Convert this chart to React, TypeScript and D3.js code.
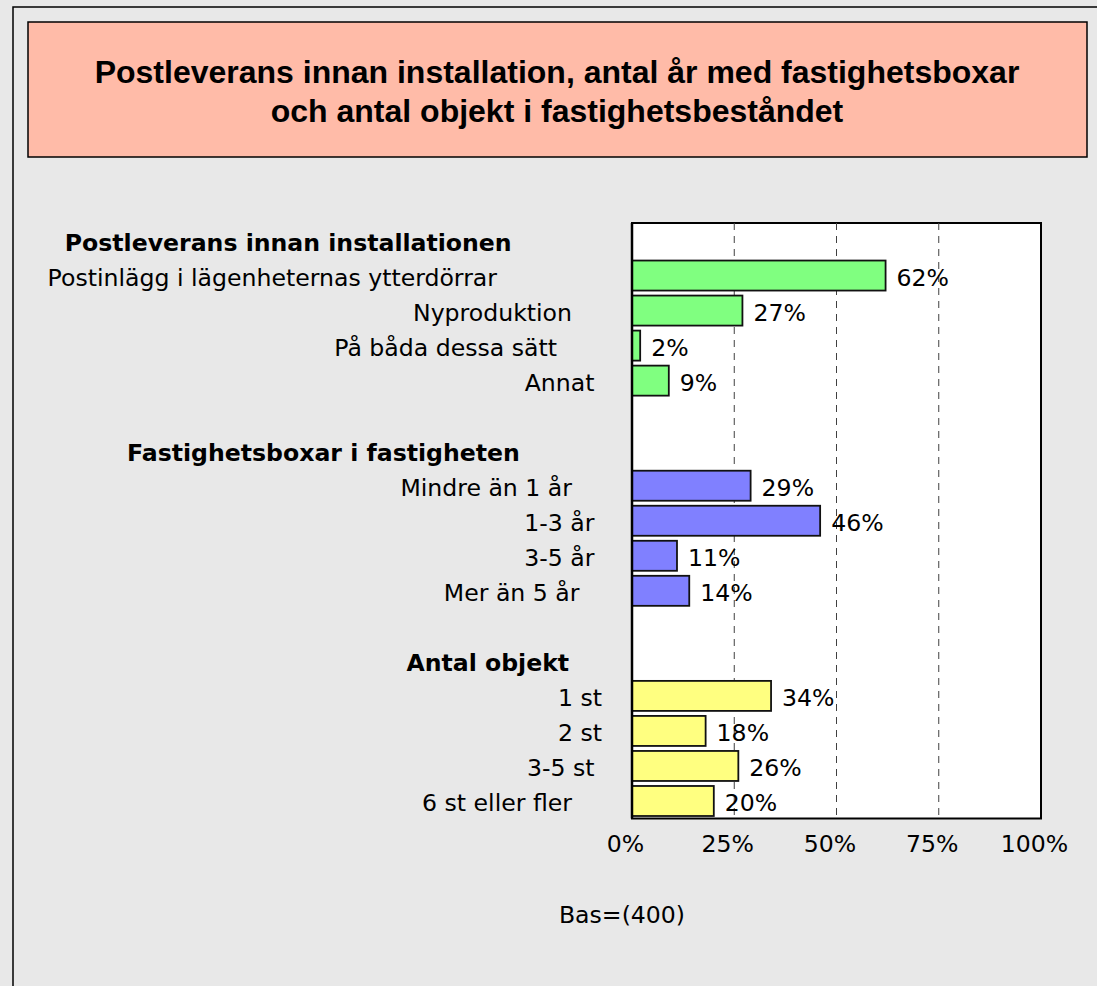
import * as d3 from 'd3';
import React, { useEffect, useRef } from 'react';

// title and footnote
const titleLines = [
    'Postleverans innan installation, antal år med fastighetsboxar',
    'och antal objekt i fastighetsbeståndet',
];
const baseNote = 'Bas=(400)';

// group headers (trailing spaces as in the source sheet)
const groupHeaders = [
    'Postleverans innan installationen           ',
    'Fastighetsboxar i fastigheten          ',
    'Antal objekt    ',
];

// group 1: postleverans innan installation
const postLabels = [
    'Postinlägg i lägenheternas ytterdörrar              ',
    'Nyproduktion    ',
    'På båda dessa sätt      ',
    'Annat ',
];
const postValues = [62, 27, 2, 9];

// group 2: antal år med fastighetsboxar
const yearLabels = [
    'Mindre än 1 år    ',
    '1-3 år ',
    '3-5 år ',
    'Mer än 5 år   ',
];
const yearValues = [29, 46, 11, 14];

// group 3: antal objekt
const objectLabels = [
    '1 st',
    '2 st',
    '3-5 st ',
    '6 st eller fler    ',
];
const objectValues = [34, 18, 26, 20];

const groupColors = ['#80FF80', '#8080FF', '#FFFF80'];
const xTicks = [0, 25, 50, 75, 100];

const W = 1097;
const H = 986;
const labelFont = '"DejaVu Sans", Verdana, sans-serif';
const labelSize = '23.6px';

function App() {
    const ref = useRef<SVGSVGElement>(null);

    useEffect(() => {
        document.body.style.margin = '0';
        const svg = d3.select(ref.current);
        svg.selectAll('*').remove();

        // build the row list: header, items, blank spacer
        const groups = [
            { labels: postLabels, values: postValues },
            { labels: yearLabels, values: yearValues },
            { labels: objectLabels, values: objectValues },
        ];
        const rows: any[] = [];
        groups.forEach((g, gi) => {
            if (gi > 0) rows.push({ key: 'blank' + gi, type: 'blank' });
            rows.push({ key: 'head' + gi, type: 'head', label: groupHeaders[gi] });
            g.labels.forEach((l, i) => {
                rows.push({ key: 'item' + gi + '_' + i, type: 'item', label: l, value: g.values[i], color: groupColors[gi] });
            });
        });

        const x = d3.scaleLinear().domain([0, 100]).range([632, 1041]);
        const y = d3.scaleBand()
            .domain(rows.map(r => r.key))
            .range([223, 818.5])
            .paddingInner(0.143)
            .paddingOuter(0.0715);
        const [y0, y1] = y.range();

        // page background + outer frame
        svg.append('rect')
            .attr('x', 0).attr('y', 0).attr('width', W).attr('height', H)
            .attr('fill', '#E8E8E8');
        svg.append('rect')
            .attr('x', 13).attr('y', 7).attr('width', W + 20).attr('height', H + 20)
            .attr('fill', 'none').attr('stroke', '#000').attr('stroke-width', 1.5);

        // title box
        svg.append('rect')
            .attr('x', 28).attr('y', 22).attr('width', 1059).attr('height', 135)
            .attr('fill', '#FFBBA8').attr('stroke', '#000').attr('stroke-width', 1.5);
        svg.append('g').selectAll('text')
            .data(titleLines)
            .join('text')
            .attr('x', 557)
            .attr('y', (d, i) => 83 + i * 39)
            .attr('text-anchor', 'middle')
            .style('font-family', '"Liberation Sans", Arial, sans-serif')
            .style('font-weight', 'bold')
            .style('font-size', '32px')
            .attr('fill', '#000')
            .text(d => d);

        // plot area
        svg.append('rect')
            .attr('x', x(0)).attr('y', y0)
            .attr('width', x(100) - x(0)).attr('height', y1 - y0)
            .attr('fill', '#fff').attr('stroke', '#000').attr('stroke-width', 2);

        svg.append('g').selectAll('line')
            .data(xTicks.filter(t => t > 0 && t < 100))
            .join('line')
            .attr('x1', d => x(d)).attr('x2', d => x(d))
            .attr('y1', y0).attr('y2', y1)
            .attr('stroke', '#404040')
            .attr('stroke-width', 1)
            .attr('stroke-dasharray', '7,6');

        const items = rows.filter(r => r.type === 'item');

        svg.append('g').selectAll('rect')
            .data(items)
            .join('rect')
            .attr('x', x(0))
            .attr('y', d => y(d.key)!)
            .attr('width', d => x(d.value) - x(0))
            .attr('height', y.bandwidth())
            .attr('fill', d => d.color)
            .attr('stroke', '#111')
            .attr('stroke-width', 1.8);

        // left axis line
        svg.append('line')
            .attr('x1', x(0)).attr('x2', x(0))
            .attr('y1', y0).attr('y2', y1)
            .attr('stroke', '#000').attr('stroke-width', 2.5);

        // value labels
        svg.append('g').selectAll('text')
            .data(items)
            .join('text')
            .attr('x', d => x(d.value) + 11)
            .attr('y', d => y(d.key)! + y.bandwidth() / 2 + 10)
            .style('font-family', labelFont)
            .style('font-size', labelSize)
            .attr('fill', '#000')
            .text(d => d.value + '%');

        // category + header labels
        svg.append('g').selectAll('text')
            .data(rows.filter(r => r.type !== 'blank'))
            .join('text')
            .attr('x', 602)
            .attr('y', d => y(d.key)! + y.bandwidth() / 2 + 10)
            .attr('text-anchor', 'end')
            .attr('xml:space', 'preserve')
            .style('white-space', 'pre')
            .style('font-family', labelFont)
            .style('font-size', labelSize)
            .style('font-weight', d => d.type === 'head' ? 'bold' : 'normal')
            .attr('fill', '#000')
            .text(d => d.label);

        // x axis labels
        const axis = svg.append('g')
            .attr('transform', `translate(0,${y1})`)
            .call(d3.axisBottom(x).tickValues(xTicks).tickSize(0).tickPadding(17).tickFormat(d => d + '%'));
        axis.select('.domain').remove();
        axis.selectAll('text')
            .attr('dx', -7)
            .style('font-family', labelFont)
            .style('font-size', labelSize)
            .attr('fill', '#000');

        // base note
        svg.append('text')
            .attr('x', 622).attr('y', 923)
            .attr('text-anchor', 'middle')
            .style('font-family', labelFont)
            .style('font-size', labelSize)
            .attr('fill', '#000')
            .text(baseNote);
    }, []);

    return <svg ref={ref} width={W} height={H} style={{ display: 'block' }}></svg>;
}

export default App;
